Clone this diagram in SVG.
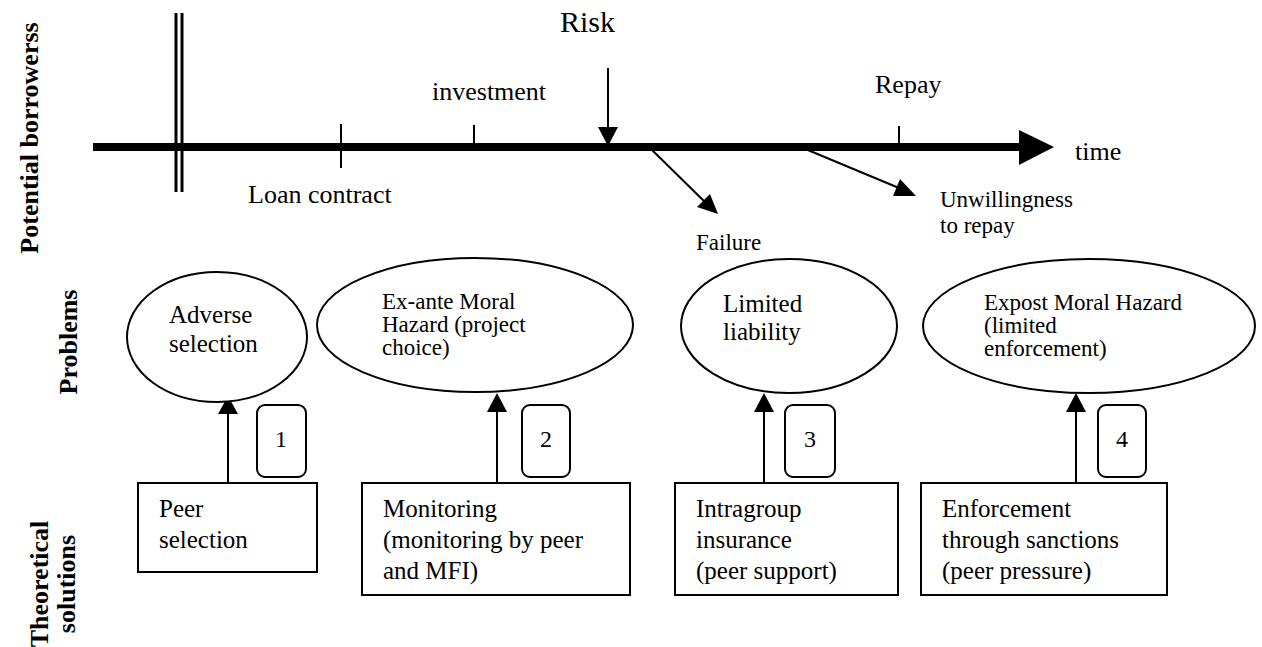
<svg xmlns="http://www.w3.org/2000/svg" width="1262" height="647" viewBox="0 0 1262 647">
<style>
text{font-family:"Liberation Serif","Times New Roman",serif;fill:#000}
.lab{font-size:26px;font-weight:bold}
.tl{font-size:26px}
.sm{font-size:23px}
.mid{font-size:25px}
.shape{fill:#fff;stroke:#000;stroke-width:2}
.ln{stroke:#000;stroke-width:2;fill:none}
.num{font-size:24px}
</style>
<rect width="1262" height="647" fill="#fff"/>

<g id="side-labels">
<text class="lab" transform="translate(38,138) rotate(-90)" text-anchor="middle">Potential borrowerss</text>
<text class="lab" transform="translate(77,342) rotate(-90)" text-anchor="middle">Problems</text>
<text class="lab" transform="translate(48,584) rotate(-90)" text-anchor="middle">Theoretical</text>
<text class="lab" transform="translate(75,584) rotate(-90)" text-anchor="middle">solutions</text>
</g>

<g id="timeline">
<line x1="93" y1="147" x2="1022" y2="147" stroke="#000" stroke-width="8"/>
<polygon points="1019,130 1054,147 1019,165" fill="#000"/>
<line x1="176" y1="13" x2="176" y2="192" stroke="#000" stroke-width="3"/>
<line x1="182" y1="13" x2="182" y2="192" stroke="#000" stroke-width="3"/>
<line x1="341" y1="124" x2="341" y2="168" class="ln"/>
<line x1="474" y1="125" x2="474" y2="147" class="ln"/>
<line x1="899" y1="126" x2="899" y2="147" class="ln"/>
<text class="tl" x="248" y="203">Loan contract</text>
<text class="tl" x="432" y="100">investment</text>
<text class="tl" x="875" y="93">Repay</text>
<text class="tl" x="1075" y="160">time</text>
<text style="font-size:30px" x="560" y="32">Risk</text>
</g>

<g id="connectors">
<line x1="608" y1="68" x2="608" y2="130" class="ln"/>
<polygon points="598,127 618,127 608,146" fill="#000"/>
<line x1="652" y1="150" x2="706" y2="203" class="ln"/>
<polygon points="697,207 710,194 718,214" fill="#000"/>
<line x1="803" y1="148" x2="899" y2="188" class="ln"/>
<polygon points="893,196 900,179 916,196" fill="#000"/>
<line x1="228" y1="483" x2="228" y2="412" class="ln"/>
<polygon points="218,414 238,414 228,396" fill="#000"/>
<line x1="497" y1="483" x2="497" y2="410" class="ln"/>
<polygon points="487,412 507,412 497,393" fill="#000"/>
<line x1="764" y1="483" x2="764" y2="410" class="ln"/>
<polygon points="754,412 774,412 764,393" fill="#000"/>
<line x1="1076" y1="483" x2="1076" y2="410" class="ln"/>
<polygon points="1066,412 1086,412 1076,393" fill="#000"/>
</g>

<g id="outcome-labels">
<text class="sm" x="940" y="207">Unwillingness</text>
<text class="sm" x="940" y="233">to repay</text>
<text class="sm" x="696" y="250">Failure</text>
</g>

<g id="problem-adverse">
<ellipse class="shape" cx="217" cy="337" rx="90" ry="65"/>
<text class="mid" x="169" y="323">Adverse</text>
<text class="mid" x="169" y="352">selection</text>
</g>
<g id="problem-exante">
<ellipse class="shape" cx="475" cy="325" rx="158" ry="67"/>
<text class="sm" x="382" y="309">Ex-ante Moral</text>
<text class="sm" x="382" y="332">Hazard (project</text>
<text class="sm" x="382" y="355">choice)</text>
</g>
<g id="problem-limited">
<ellipse class="shape" cx="789" cy="326" rx="108" ry="67"/>
<text class="mid" x="723" y="312">Limited</text>
<text class="mid" x="723" y="340">liability</text>
</g>
<g id="problem-expost">
<ellipse class="shape" cx="1089" cy="326" rx="166" ry="67"/>
<text class="sm" x="984" y="310">Expost Moral Hazard</text>
<text class="sm" x="984" y="333">(limited</text>
<text class="sm" x="984" y="356">enforcement)</text>
</g>

<g id="num-1"><rect class="shape" x="257" y="405" width="49" height="72" rx="8"/><text class="num" x="281" y="447" text-anchor="middle">1</text></g>
<g id="num-2"><rect class="shape" x="522" y="405" width="48" height="72" rx="8"/><text class="num" x="546" y="447" text-anchor="middle">2</text></g>
<g id="num-3"><rect class="shape" x="785" y="405" width="50" height="72" rx="8"/><text class="num" x="810" y="447" text-anchor="middle">3</text></g>
<g id="num-4"><rect class="shape" x="1098" y="405" width="48" height="72" rx="8"/><text class="num" x="1122" y="447" text-anchor="middle">4</text></g>

<g id="solution-peer">
<rect class="shape" x="138" y="483" width="179" height="89"/>
<text class="mid" x="159" y="517">Peer</text>
<text class="mid" x="159" y="548">selection</text>
</g>
<g id="solution-monitoring">
<rect class="shape" x="362" y="483" width="268" height="112"/>
<text class="mid" x="383" y="517">Monitoring</text>
<text class="mid" x="383" y="548">(monitoring by peer</text>
<text class="mid" x="383" y="579">and MFI)</text>
</g>
<g id="solution-intragroup">
<rect class="shape" x="675" y="483" width="223" height="112"/>
<text class="mid" x="696" y="517">Intragroup</text>
<text class="mid" x="696" y="548">insurance</text>
<text class="mid" x="696" y="579">(peer support)</text>
</g>
<g id="solution-enforcement">
<rect class="shape" x="921" y="483" width="246" height="112"/>
<text class="mid" x="942" y="517">Enforcement</text>
<text class="mid" x="942" y="548">through sanctions</text>
<text class="mid" x="942" y="579">(peer pressure)</text>
</g>
</svg>
